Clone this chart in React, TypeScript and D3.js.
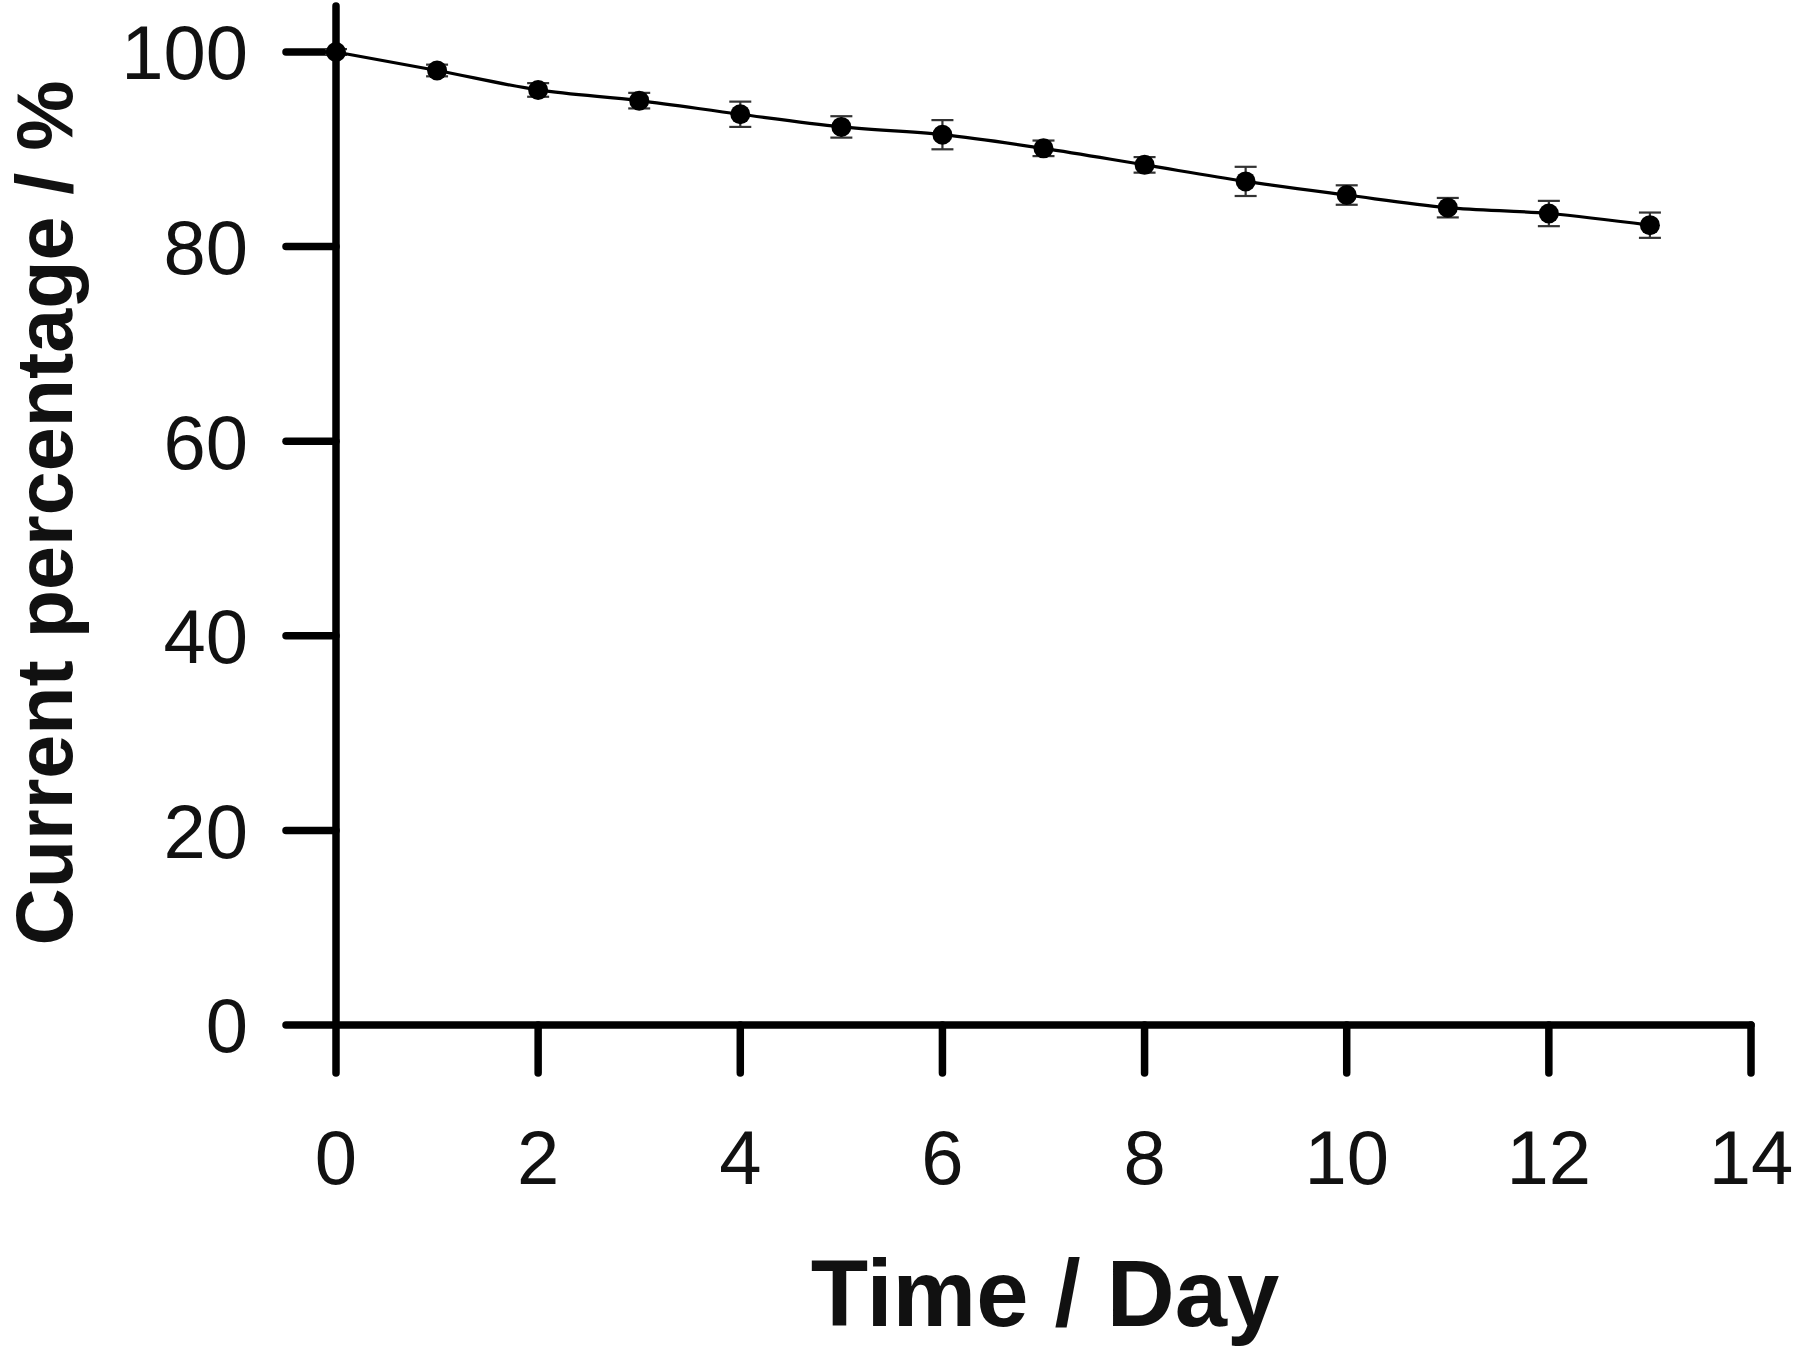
import React from "react";
import * as d3 from "d3";

const days = [0, 1, 2, 3, 4, 5, 6, 7, 8, 9, 10, 11, 12, 13];
const currentPct = [100, 98.1, 96.1, 95.0, 93.6, 92.3, 91.5, 90.1, 88.4, 86.7, 85.3, 84.0, 83.4, 82.2];
const errPct = [0.3, 0.6, 0.7, 0.8, 1.3, 1.1, 1.5, 0.8, 0.8, 1.5, 1.0, 1.0, 1.3, 1.3];
const xTicks = [0, 2, 4, 6, 8, 10, 12, 14];
const yTicks = [0, 20, 40, 60, 80, 100];

const W = 1800;
const H = 1350;
const FONT = "'Liberation Sans', Arial, sans-serif";

export default function App() {
  const x = d3.scaleLinear().domain([0, 14]).range([336, 1751]);
  const y = d3.scaleLinear().domain([0, 100]).range([1025, 52]);
  const line = d3
    .line<number>()
    .x((_, i) => x(days[i]))
    .y((d) => y(d))
    .curve(d3.curveMonotoneX);

  const axisW = 7.5;
  const tickLen = 50;
  const capHalf = 11;

  return (
    <svg
      width={W}
      height={H}
      style={{ position: "absolute", left: 0, top: 0, background: "#fff" }}
    >
      {/* axes */}
      <line x1={x(0)} x2={x(0)} y1={6} y2={y(0)} stroke="#000" strokeWidth={axisW} strokeLinecap="round" />
      <line x1={x(0)} x2={x(14)} y1={y(0)} y2={y(0)} stroke="#000" strokeWidth={axisW} strokeLinecap="round" />
      {yTicks.map((t) => (
        <g key={"yt" + t}>
          <line x1={x(0) - tickLen} x2={x(0)} y1={y(t)} y2={y(t)} stroke="#000" strokeWidth={axisW} strokeLinecap="round" />
          <text x={248} y={y(t)} dy="0.36em" textAnchor="end" fontFamily={FONT} fontSize={76} fill="#111">
            {t}
          </text>
        </g>
      ))}
      {xTicks.map((t) => (
        <g key={"xt" + t}>
          <line x1={x(t)} x2={x(t)} y1={y(0)} y2={y(0) + tickLen - 2} stroke="#000" strokeWidth={axisW} strokeLinecap="round" />
          <text x={x(t)} y={1184} textAnchor="middle" fontFamily={FONT} fontSize={76} fill="#111">
            {t}
          </text>
        </g>
      ))}

      {/* error bars */}
      {days.map((d, i) => (
        <g key={"e" + d} stroke="#333" strokeWidth={2.2}>
          <line x1={x(d)} x2={x(d)} y1={y(currentPct[i] - errPct[i])} y2={y(currentPct[i] + errPct[i])} />
          <line x1={x(d) - capHalf} x2={x(d) + capHalf} y1={y(currentPct[i] - errPct[i])} y2={y(currentPct[i] - errPct[i])} />
          <line x1={x(d) - capHalf} x2={x(d) + capHalf} y1={y(currentPct[i] + errPct[i])} y2={y(currentPct[i] + errPct[i])} />
        </g>
      ))}

      {/* line */}
      <path d={line(currentPct) || ""} fill="none" stroke="#000" strokeWidth={3.2} />

      {/* markers */}
      {days.map((d, i) => (
        <circle key={"m" + d} cx={x(d)} cy={y(currentPct[i])} r={10} fill="#000" />
      ))}

      {/* titles */}
      <text x={1045} y={1326} textAnchor="middle" fontFamily={FONT} fontWeight="bold" fontSize={94} fill="#111">
        Time / Day
      </text>
      <text
        transform={`translate(72, 513) rotate(-90)`}
        textAnchor="middle"
        fontFamily={FONT}
        fontWeight="bold"
        fontSize={79}
        fill="#111"
      >
        Current percentage / %
      </text>
    </svg>
  );
}
